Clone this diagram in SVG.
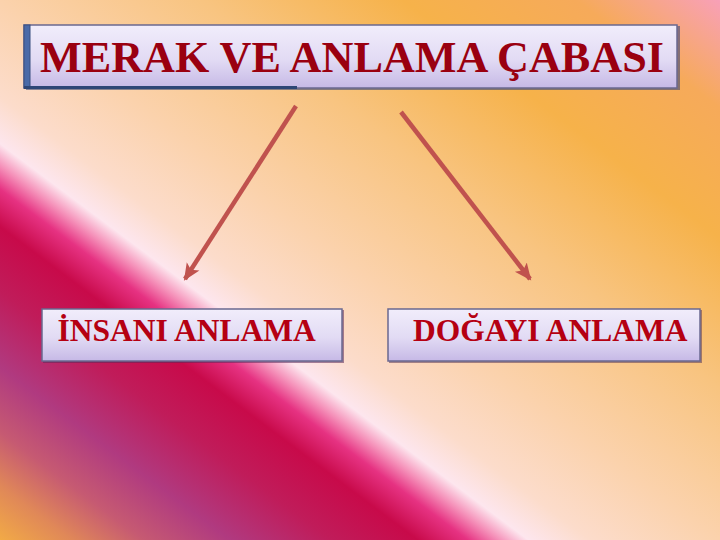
<svg xmlns="http://www.w3.org/2000/svg" width="720" height="540" viewBox="0 0 720 540">
  <style>
    .t { font-family: "Liberation Serif", "Times New Roman", serif; font-weight: bold; }
    .title { font-size: 44.2px; fill: #9a0010; }
    .lbl { font-size: 31.5px; fill: #b50012; }
    .box { fill: url(#boxfill); stroke: #6a6890; stroke-width: 1.5; }
    .conn { stroke: #c0524e; stroke-width: 4.5; fill: none; stroke-linecap: butt; }
  </style>
  <defs>
    <linearGradient id="bg" gradientUnits="userSpaceOnUse" x1="100.8" y1="615.6" x2="619.2" y2="-75.6">
      <stop offset="0" stop-color="#f2aa46"/>
      <stop offset="0.05" stop-color="#e08858"/>
      <stop offset="0.1" stop-color="#c65a72"/>
      <stop offset="0.16" stop-color="#b03a80"/>
      <stop offset="0.23" stop-color="#c01c5a"/>
      <stop offset="0.29" stop-color="#c80a4a"/>
      <stop offset="0.325" stop-color="#e63282"/>
      <stop offset="0.347" stop-color="#f592ba"/>
      <stop offset="0.367" stop-color="#fde6ee"/>
      <stop offset="0.41" stop-color="#fcdccb"/>
      <stop offset="0.5" stop-color="#fbd2ac"/>
      <stop offset="0.64" stop-color="#f8c480"/>
      <stop offset="0.78" stop-color="#f6b24a"/>
      <stop offset="0.9" stop-color="#f6aa5a"/>
      <stop offset="1" stop-color="#f8a0b8"/>
    </linearGradient>
    <linearGradient id="boxfill" x1="0" y1="0" x2="0" y2="1">
      <stop offset="0" stop-color="#f1edfb"/>
      <stop offset="0.55" stop-color="#e2dbf4"/>
      <stop offset="1" stop-color="#c6b9e6"/>
    </linearGradient>
    <marker id="ah" markerUnits="userSpaceOnUse" markerWidth="20" markerHeight="20" refX="15" refY="9" orient="auto">
      <path d="M0,1.5 L17,9 L0,16.5 L4,9 z" fill="#c0524e"/>
    </marker>
  </defs>

  <rect x="0" y="0" width="720" height="540" fill="url(#bg)"/>

  <g id="title">
    <rect x="26" y="26" width="654" height="64" fill="#3a4a78" opacity="0.6"/>
    <rect class="box" x="24" y="25" width="653" height="63"/>
    <rect x="24" y="25" width="6" height="63" fill="#4a6aa8" stroke="#3a5080" stroke-width="1"/>
    <line x1="24" y1="87.5" x2="297" y2="87.5" stroke="#2e4676" stroke-width="3"/>
    <text class="t title" x="40" y="72">MERAK VE ANLAMA ÇABASI</text>
  </g>

  <g id="insani">
    <rect x="43" y="310" width="301" height="53" fill="#5a2a5a" opacity="0.55"/>
    <rect class="box" x="42" y="309" width="300" height="52"/>
    <text class="t lbl" x="57.5" y="341">İNSANI ANLAMA</text>
  </g>

  <g id="dogayi">
    <rect x="389" y="310" width="313" height="53" fill="#5a3a5a" opacity="0.55"/>
    <rect class="box" x="388" y="309" width="312" height="52"/>
    <text class="t lbl" x="413" y="341">DOĞAYI ANLAMA</text>
  </g>

  <g id="connectors">
    <line class="conn" x1="296" y1="106" x2="185" y2="279" marker-end="url(#ah)"/>
    <line class="conn" x1="401" y1="112" x2="530" y2="279" marker-end="url(#ah)"/>
  </g>
</svg>
